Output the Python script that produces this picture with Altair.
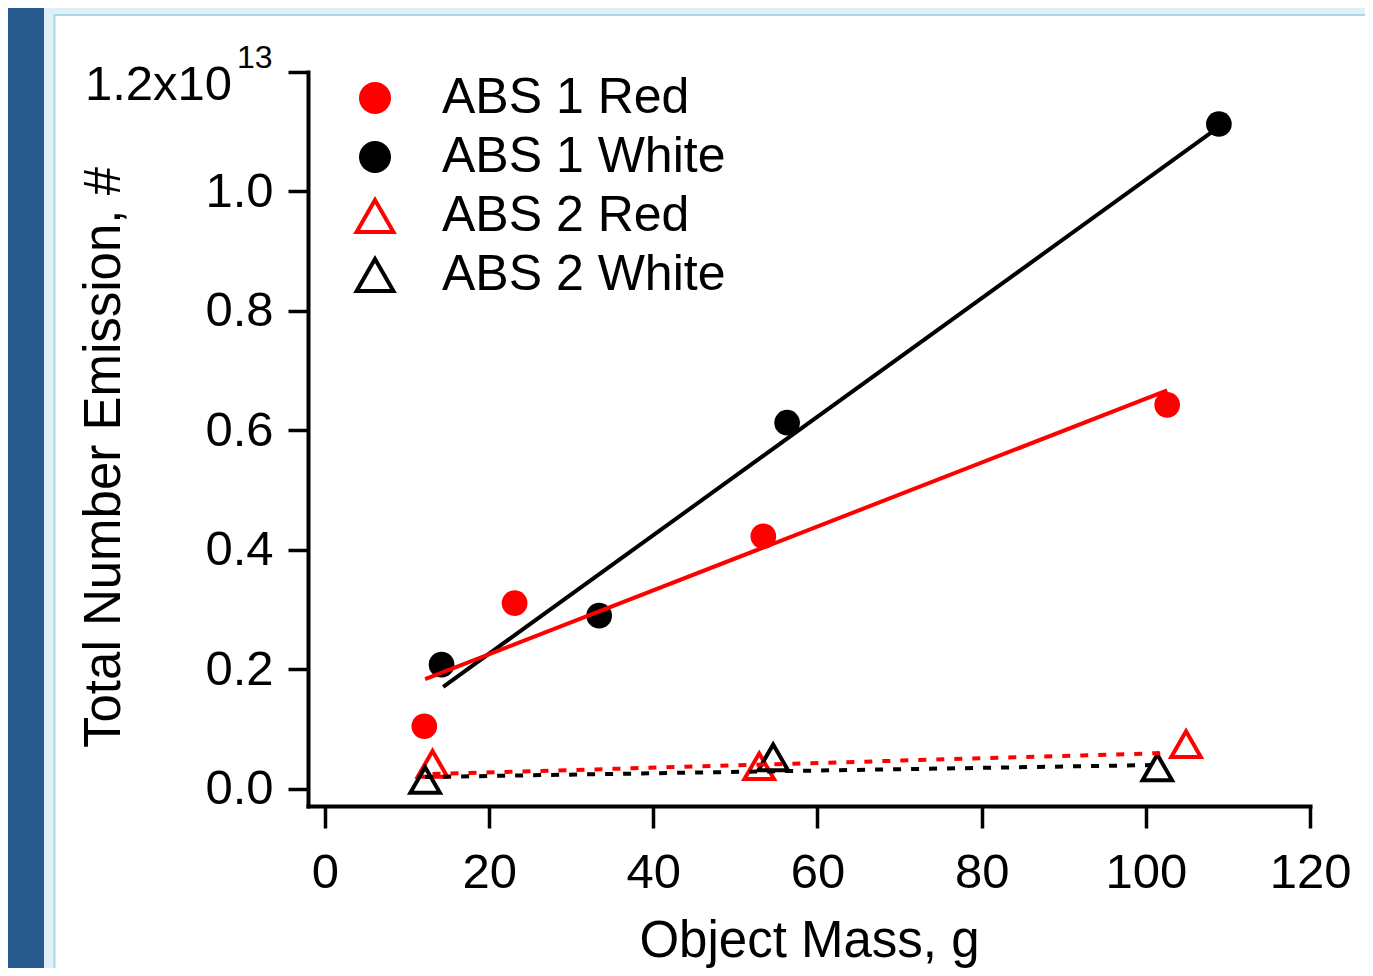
import altair as alt
import pandas as pd

FONT = "Liberation Sans"

# ---------------- data (values in units of 1e13) ----------
series_names = ["ABS 1 Red", "ABS 1 White", "ABS 2 Red", "ABS 2 White"]

abs1_red_x = [12.1, 23.1, 53.4, 102.6]
abs1_red_y = [0.105, 0.311, 0.423, 0.643]
abs1_white_x = [14.2, 33.4, 56.3, 108.9]
abs1_white_y = [0.208, 0.290, 0.613, 1.113]
abs2_red_x = [13.1, 52.9, 104.9]
abs2_red_y = [0.042, 0.038, 0.075]
abs2_white_x = [12.2, 54.6, 101.4]
abs2_white_y = [0.015, 0.053, 0.036]

# linear fit lines (start / end points)
fit_series = ["ABS 1 White", "ABS 1 Red", "ABS 2 White", "ABS 2 Red"]
fit_x_start = [14.4, 12.2, 12.2, 13.1]
fit_x_end = [107.9, 102.6, 100.6, 101.8]
fit_y_start = [0.171, 0.184, 0.020, 0.025]
fit_y_end = [1.098, 0.667, 0.040, 0.060]
fit_colors = ["#000000", "#ff0000", "#000000", "#ff0000"]
fit_dotted = [False, False, True, True]

x_ticks = [0, 20, 40, 60, 80, 100, 120]
y_ticks = [0.0, 0.2, 0.4, 0.6, 0.8, 1.0, 1.2]
y_top_label = ["1.2x10"]
y_exponent = ["13"]

x_title = "Object Mass, g"
y_title = "Total Number Emission, #"

# ---------------- tables ----------------
rows = []
for name, xs, ys in zip(series_names,
                        [abs1_red_x, abs1_white_x, abs2_red_x, abs2_white_x],
                        [abs1_red_y, abs1_white_y, abs2_red_y, abs2_white_y]):
    for xv, yv in zip(xs, ys):
        rows.append({"series": name, "x": xv, "y": yv})
pts = pd.DataFrame(rows)

frows = []
for name, x0, x1, y0, y1, c, d in zip(fit_series, fit_x_start, fit_x_end,
                                       fit_y_start, fit_y_end, fit_colors, fit_dotted):
    frows.append({"series": name, "x": x0, "y": y0, "col": c, "dotted": d})
    frows.append({"series": name, "x": x1, "y": y1, "col": c, "dotted": d})
fits = pd.DataFrame(frows)

top_df = pd.DataFrame({"y": [1.2], "label": y_top_label, "exp": y_exponent})
dummy = pd.DataFrame({"k": [0]})

# ---------------- encodings ----------------
x_enc = alt.X(
    "x:Q",
    title=x_title,
    scale=alt.Scale(domain=[-2.07, 120], nice=False, zero=False),
    axis=alt.Axis(
        values=x_ticks, format="d", grid=False,
        labelFont=FONT, labelFontSize=49, labelColor="black", labelPadding=20,
        labelFlush=False, labelOverlap=False,
        tickSize=22, tickWidth=3.5, tickColor="black",
        domainWidth=4, domainColor="black", domainCap="square",
        titleFont=FONT, titleFontSize=51, titleFontWeight="normal", titleColor="black",
        titleY=150, titleBaseline="alphabetic",
    ),
)
y_enc = alt.Y(
    "y:Q",
    title=y_title,
    scale=alt.Scale(domain=[-0.0285, 1.2], nice=False, zero=False),
    axis=alt.Axis(
        values=y_ticks, grid=False,
        labelExpr="datum.value > 1.1 ? '' : format(datum.value, '.1f')",
        labelFont=FONT, labelFontSize=49, labelColor="black", labelPadding=15,
        labelFlush=False, labelOverlap=False,
        tickSize=20, tickWidth=3.5, tickColor="black",
        domainWidth=4, domainColor="black", domainCap="square",
        titleFont=FONT, titleFontSize=51, titleFontWeight="normal", titleColor="black",
        titleX=-189, titleY=385, titleAlign="center", titleBaseline="alphabetic",
    ),
)

TRI = "M0,-1L1.15,1L-1.15,1Z"
legend = alt.Legend(
    orient="none", legendX=42, legendY=1, padding=0,
    labelFont=FONT, labelFontSize=50, labelColor="black", labelLimit=500,
    labelOffset=42, rowPadding=9,
    labelExpr="indexof(datum.label, 'ABS 2') == 0 ? '\u2009' + datum.label : datum.label",
    symbolSize=1024, symbolStrokeWidth=4, zindex=1,
)

points = alt.Chart(pts).mark_point(filled=True, size=660, strokeWidth=4, opacity=1).encode(
    x=x_enc,
    y=y_enc,
    shape=alt.Shape("series:N", title=None, legend=legend,
                    scale=alt.Scale(domain=series_names, range=["circle", "circle", TRI, TRI])),
    fill=alt.Fill("series:N", title=None, legend=legend,
                  scale=alt.Scale(domain=series_names,
                                  range=["#ff0000", "#000000", "transparent", "transparent"])),
    stroke=alt.Stroke("series:N", title=None, legend=legend,
                      scale=alt.Scale(domain=series_names,
                                      range=["transparent", "transparent", "#ff0000", "#000000"])),
)

solid = alt.Chart(fits).transform_filter("!datum.dotted").mark_line(strokeWidth=4).encode(
    x=x_enc, y=y_enc, detail="series:N",
    stroke=alt.Stroke("col:N", scale=None),
)
dotted = alt.Chart(fits).transform_filter("datum.dotted").mark_line(
    strokeWidth=4, strokeDash=[8, 10]).encode(
    x=x_enc, y=y_enc, detail="series:N",
    stroke=alt.Stroke("col:N", scale=None),
)

top_label = alt.Chart(top_df).mark_text(
    font=FONT, fontSize=49, align="right", baseline="alphabetic", dy=28, color="black"
).encode(x=alt.value(-76), y=y_enc, text="label:N")
top_exp = alt.Chart(top_df).mark_text(
    font=FONT, fontSize=32, align="left", baseline="alphabetic", dy=-4, color="black"
).encode(x=alt.value(-71), y=y_enc, text="exp:N")

# ---------------- slide frame around the plot ----------------
LIGHT = "#e1eff6"
DARK = "#285b8d"
left_strip = alt.Chart(dummy).mark_rect(color=LIGHT).encode(
    x=alt.value(-300), x2=alt.value(-253), y=alt.value(-64), y2=alt.value(896))
top_strip = alt.Chart(dummy).mark_rect(color=LIGHT).encode(
    x=alt.value(-300), x2=alt.value(1057), y=alt.value(-64), y2=alt.value(-57))
bar = alt.Chart(dummy).mark_rect(color=DARK).encode(
    x=alt.value(-300), x2=alt.value(-264), y=alt.value(-64), y2=alt.value(896))
border = alt.Chart(dummy).mark_rect(fillOpacity=0, stroke="#a9d8e8", strokeWidth=2).encode(
    x=alt.value(-253.5), x2=alt.value(1070), y=alt.value(-57), y2=alt.value(910))

chart = alt.layer(
    left_strip, top_strip, bar, border,
    points, solid, dotted, top_label, top_exp,
).properties(
    width=1002, height=734,
    padding={"left": 300, "top": 64, "right": 55, "bottom": 162},
    autosize=alt.AutoSizeParams(type="none"),
    background="white",
).configure_view(stroke=None)

chart.save("out.html", embed_options={"renderer": "svg", "actions": False})
